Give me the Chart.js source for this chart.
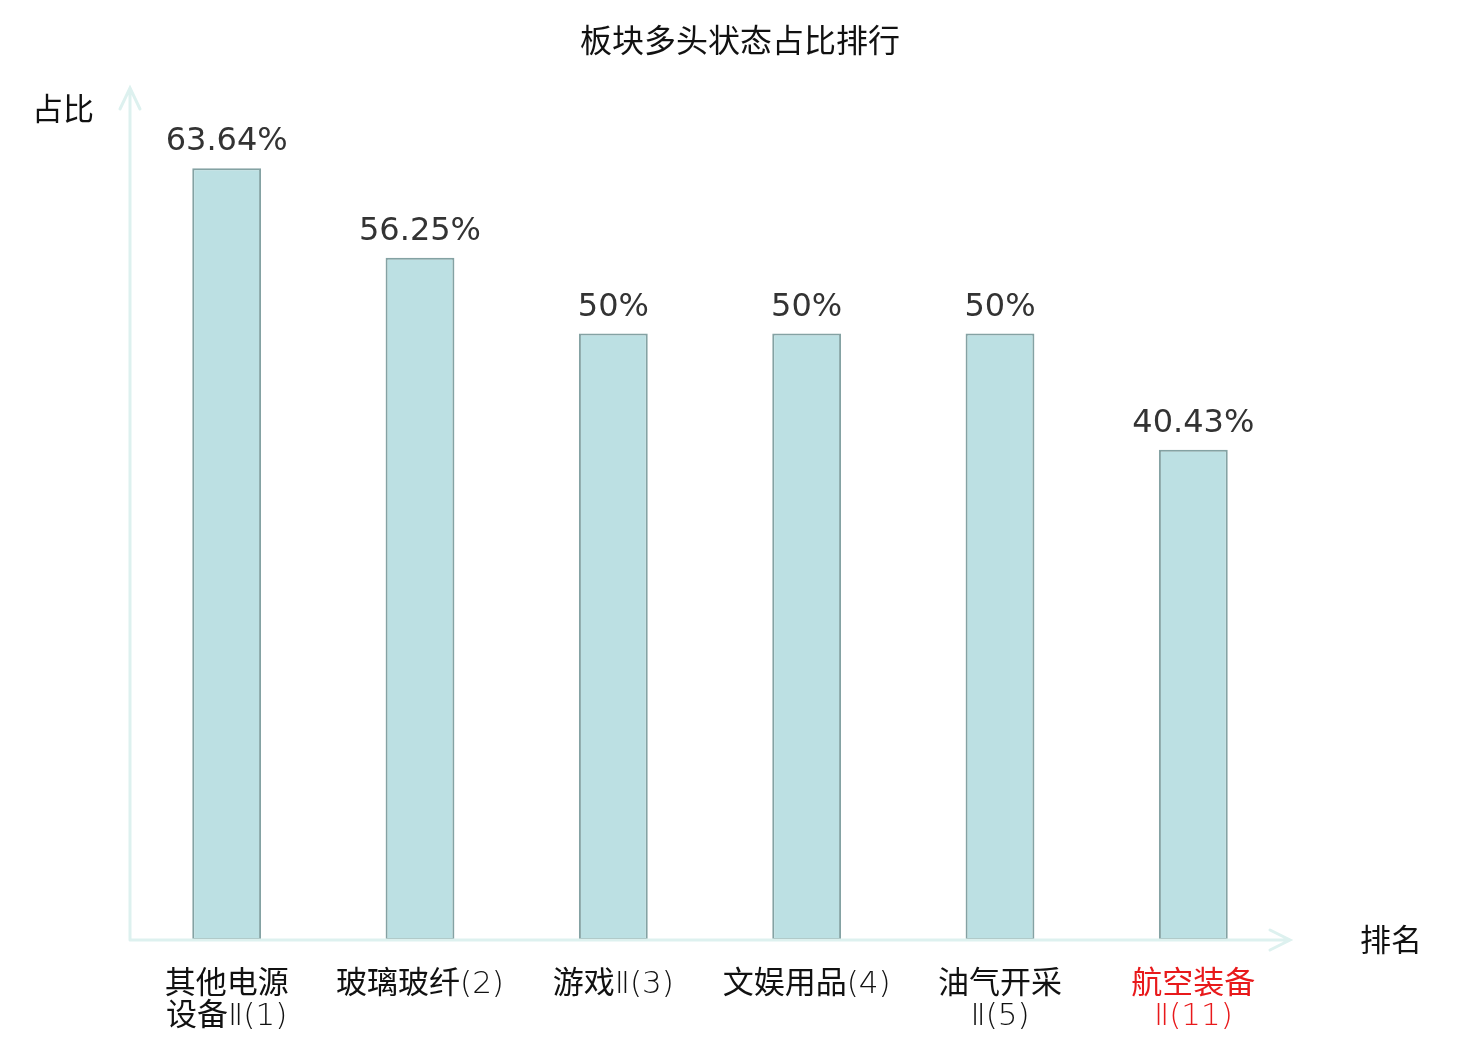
<!DOCTYPE html>
<html>
<head>
<meta charset="utf-8">
<script src="https://cdn.jsdelivr.net/npm/chart.js@4/dist/chart.umd.min.js"></script>
<style>
html,body{margin:0;padding:0;background:#fff;}
#wrap{width:1480px;height:1040px;position:relative;}
</style>
</head>
<body>
<div id="wrap"><canvas id="c" width="1480" height="1040"></canvas></div>
<script>
const chartTitle = '板块多头状态占比排行';
const yAxisTitle = '占比';
const xAxisTitle = '排名';
const categories = [
  ['其他电源', '设备Ⅱ(1)'],
  ['玻璃玻纤(2)'],
  ['游戏Ⅱ(3)'],
  ['文娱用品(4)'],
  ['油气开采', 'Ⅱ(5)'],
  ['航空装备', 'Ⅱ(11)']
];
const values = [63.64, 56.25, 50, 50, 50, 40.43];
const valueLabels = ['63.64%', '56.25%', '50%', '50%', '50%', '40.43%'];
const labelColors = ['#111', '#111', '#111', '#111', '#111', '#e8191b'];

const FONT = '"DejaVu Sans", "Noto Sans CJK SC", sans-serif';
const LIGHT_FONT = '200 31px "DejaVu Sans", "Noto Sans CJK SC", sans-serif';
const AXIS_COLOR = '#ddf1ef';

function drawMixed(ctx, text, cx, y) {
  const m = text.match(/^([\u4e00-\u9fff]*)(.*)$/);
  const cjk = m[1], rest = m[2];
  const fCjk = '31px ' + FONT;
  ctx.font = fCjk; const w1 = ctx.measureText(cjk).width;
  ctx.font = LIGHT_FONT; const w2 = ctx.measureText(rest).width;
  let x = cx - (w1 + w2) / 2;
  ctx.textAlign = 'left';
  ctx.font = fCjk; ctx.fillText(cjk, x, y);
  ctx.font = LIGHT_FONT; ctx.fillText(rest, x + w1, y);
}

const decor = {
  id: 'decor',
  afterDatasetsDraw(chart) {
    const ctx = chart.ctx;
    const xs = chart.scales.x, ys = chart.scales.y;
    const left = xs.left, right = xs.right;
    const base = ys.getPixelForValue(0);
    const top = ys.top - 3;
    ctx.save();
    ctx.strokeStyle = AXIS_COLOR;
    ctx.lineWidth = 3;
    ctx.lineCap = 'round';
    ctx.beginPath();
    ctx.moveTo(left, base); ctx.lineTo(left, top);
    ctx.moveTo(left - 10, top + 21); ctx.lineTo(left, top); ctx.lineTo(left + 10, top + 21);
    ctx.moveTo(left, base); ctx.lineTo(right, base);
    ctx.moveTo(right - 20, base - 10); ctx.lineTo(right, base); ctx.lineTo(right - 20, base + 10);
    ctx.stroke();

    const meta = chart.getDatasetMeta(0);
    ctx.font = '32px ' + FONT;
    ctx.fillStyle = '#333';
    ctx.textAlign = 'center';
    ctx.textBaseline = 'alphabetic';
    meta.data.forEach((bar, i) => {
      ctx.fillText(valueLabels[i], bar.x, bar.y - 18);
    });

    ctx.textBaseline = 'middle';
    categories.forEach((lines, i) => {
      const x = xs.getPixelForValue(i);
      ctx.fillStyle = labelColors[i];
      lines.forEach((ln, j) => {
        drawMixed(ctx, ln, x, 985 + j * 32);
      });
    });

    ctx.fillStyle = '#111';
    ctx.font = '32px ' + FONT;
    ctx.textAlign = 'center';
    ctx.fillText(chartTitle, 740, 44);
    ctx.font = '31px ' + FONT;
    ctx.fillText(yAxisTitle, 63, 112);
    ctx.fillText(xAxisTitle, 1391, 943);
    ctx.restore();
  }
};

new Chart(document.getElementById('c'), {
  type: 'bar',
  data: {
    labels: categories,
    datasets: [{
      data: values,
      backgroundColor: '#bce0e3',
      borderColor: '#84a2a3',
      borderWidth: 2,
      borderSkipped: false,
      barPercentage: 0.356,
      categoryPercentage: 1.0
    }]
  },
  options: {
    responsive: false,
    animation: false,
    devicePixelRatio: 1,
    layout: { padding: { left: 130, right: 190, top: 91, bottom: 100 } },
    plugins: { legend: { display: false }, title: { display: false }, tooltip: { enabled: false } },
    scales: {
      x: { display: false, offset: true },
      y: { display: false, min: 0, max: 70 }
    }
  },
  plugins: [decor]
});
</script>
</body>
</html>
